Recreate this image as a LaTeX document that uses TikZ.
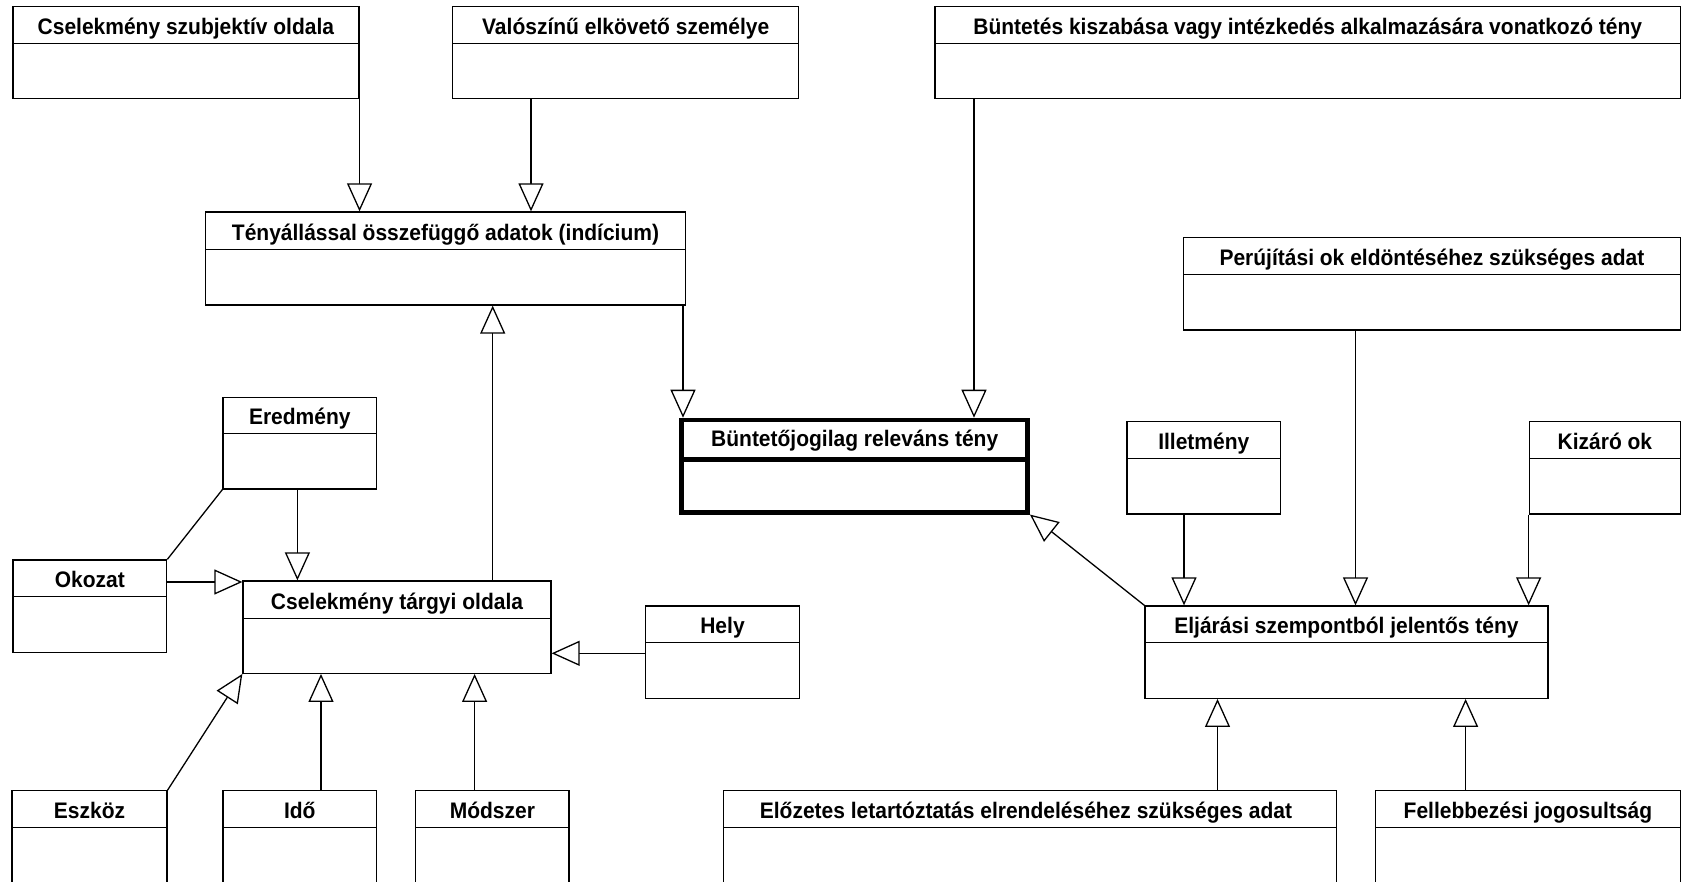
\documentclass[tikz,border=0pt]{standalone}
\usepackage{fontspec}
\setmainfont{Liberation Sans}
\usetikzlibrary{arrows.meta,fit}
\tikzset{
  boxframe/.style={draw, line width=1.3pt, inner sep=0pt},
  divline/.style={line width=1.3pt},
  boxlabel/.style={font=\bfseries\fontsize{21}{25}\selectfont, anchor=base, inner sep=0pt},
  gen/.style={line width=1.3pt, -{Triangle[length=28pt,width=25pt,fill=white]}},
  assoc/.style={line width=1.3pt},
  heavy/.style={line width=4.5pt},
}
\newcommand{\tallish}[1]{\scalebox{1}[1.07]{#1}}
% #1 extra label style, #2 name, #3 left, #4 top, #5 right, #6 divider, #7 bottom, #8 text
\newcommand{\umlbox}[8][]{%
  \node[boxframe,fit={(#3,#4) (#5,#7)}] (#2) {};
  \draw[divline] (#3,#6) -- (#5,#6);
  \node[boxlabel,#1] (#2-t) at ({(#3+#5)/2},{#6-9}) {\tallish{#8}};
}
\begin{document}
\begin{tikzpicture}[x=1pt,y=-1pt]
\fill[white] (0,0) rectangle (1682,882);
\useasboundingbox (0,0) rectangle (1682,882);
\clip (0,0) rectangle (1682,882);

\umlbox{subj}{12.9}{6.7}{358.9}{43.3}{98.7}{Cselekmény szubjektív oldala}
\umlbox{valo}{452.8}{6.7}{798.6}{43.3}{98.7}{Valószínű elkövető személye}
\umlbox{bunt}{935}{6.7}{1680.5}{43.3}{98.7}{Büntetés kiszabása vagy intézkedés alkalmazására vonatkozó tény}
\umlbox{teny}{205.3}{212}{685.7}{249.3}{305}{Tényállással összefüggő adatok (indícium)}
\umlbox{peru}{1183.4}{237.3}{1680.5}{274.3}{330}{Perújítási ok eldöntéséhez szükséges adat}

\node[boxframe,heavy,fit={(681.7,420) (1027.7,512.3)}] (rel) {};
\draw[divline,heavy] (681.7,459.3) -- (1027.7,459.3);
\node[boxlabel] (rel-t) at (854.7,447) {\tallish{Büntetőjogilag releváns tény}};

\umlbox{ered}{223}{397.3}{376.6}{433.3}{489}{Eredmény}
\umlbox{illet}{1127}{421.7}{1280.6}{458.7}{514}{Illetmény}
\umlbox{kizaro}{1529.3}{421.7}{1680.5}{458.7}{514}{Kizáró ok}
\umlbox{okozat}{12.9}{560}{166.7}{596.7}{652.3}{Okozat}
\umlbox{targy}{243}{581}{551}{618.3}{673.3}{Cselekmény tárgyi oldala}
\umlbox{hely}{645.3}{606}{799.7}{642.7}{698.3}{Hely}
\umlbox{eljar}{1145}{606}{1548}{642.7}{698.3}{Eljárási szempontból jelentős tény}
\umlbox{eszkoz}{12}{790.7}{167}{827.3}{895}{Eszköz}
\umlbox{ido}{222.9}{790.7}{376.6}{827.3}{895}{Idő}
\umlbox{modszer}{415.7}{790.7}{569}{827.3}{895}{Módszer}
\umlbox[xshift=-4pt]{elozetes}{723.2}{790.7}{1336.7}{827.3}{895}{Előzetes letartóztatás elrendeléséhez szükséges adat}
\umlbox{fellebb}{1375.4}{790.7}{1680.5}{827.3}{895}{Fellebbezési jogosultság}

\draw[gen] (subj.south east) -- (subj.south east |- teny.north);
\draw[gen] (valo.south -| 531,0) -- (teny.north -| 531,0);
\draw[gen] (bunt.south -| 974,0) -- (rel.north -| 974,0);
\draw[gen] (teny.south -| 683,0) -- (rel.north -| 683,0);
\draw[gen] (targy.north -| 492.7,0) -- (teny.south -| 492.7,0);
\draw[gen] (ered.south -| 297.4,0) -- (targy.north -| 297.4,0);
\draw[assoc] (ered.south west) -- (okozat.north east);
\draw[gen] (okozat.east |- 0,582) -- (targy.west |- 0,582);
\draw[gen] (eszkoz.north east) -- (targy.south west);
\draw[gen] (ido.north -| 321,0) -- (targy.south -| 321,0);
\draw[gen] (modszer.north -| 474.6,0) -- (targy.south -| 474.6,0);
\draw[gen] (hely.west |- 0,653.3) -- (targy.east |- 0,653.3);
\draw[gen] (eljar.north west) -- (rel.south east);
\draw[gen] (illet.south -| 1184,0) -- (eljar.north -| 1184,0);
\draw[gen] (peru.south -| 1355.5,0) -- (eljar.north -| 1355.5,0);
\draw[gen] (kizaro.south west) -- (kizaro.south west |- eljar.north);
\draw[gen] (elozetes.north -| 1217.5,0) -- (eljar.south -| 1217.5,0);
\draw[gen] (fellebb.north -| 1465.6,0) -- (eljar.south -| 1465.6,0);
\end{tikzpicture}
\end{document}
